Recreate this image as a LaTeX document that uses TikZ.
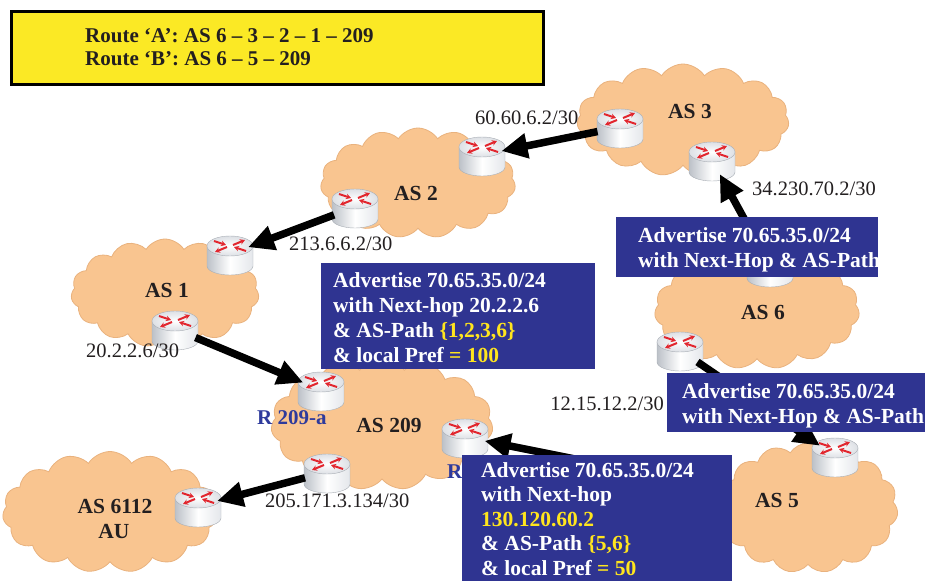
\documentclass[tikz,border=0pt]{standalone}
\usepackage{fontspec}
\setmainfont{Liberation Serif}
\usetikzlibrary{shapes.symbols,shapes.geometric,arrows.meta}

\definecolor{cloudfill}{HTML}{F9C590}
\definecolor{cloudedge}{HTML}{E9B27E}
\definecolor{advblue}{HTML}{2F3491}
\definecolor{hiyellow}{HTML}{FFE51E}
\definecolor{notebg}{HTML}{FBE925}
\definecolor{inkblack}{HTML}{231F20}
\definecolor{rnameblue}{HTML}{2E3A9C}
\definecolor{routerred}{HTML}{E2262E}
\definecolor{rtrdark}{HTML}{BCC1C8}
\definecolor{rtrlight}{HTML}{E4E7EB}
\definecolor{rtrtop}{HTML}{DDE0E5}
\definecolor{rtredge}{HTML}{A9AEB5}

\begin{document}
\begin{tikzpicture}[x=1pt,y=-1pt,
  as/.style={cloud, cloud puffs=15, cloud puff arc=115, fill=cloudfill,
    draw=cloudedge, line width=0.8pt, inner sep=0pt},
  aslabel/.style={font=\fontsize{21.5}{24}\selectfont\bfseries, text=inkblack,
    inner sep=0pt, anchor=base},
  rtr/.style={ellipse, minimum width=46pt, minimum height=36pt, inner sep=0pt},
  ip/.style={font=\fontsize{20.5}{24}\selectfont, text=inkblack, inner sep=0pt,
    anchor=base west},
  rname/.style={font=\fontsize{21}{24}\selectfont\bfseries, text=rnameblue,
    inner sep=0pt, anchor=base west},
  advbox/.style={fill=advblue, draw=none, anchor=north west, inner sep=0pt},
  advtext/.style={font=\fontsize{21.5}{25}\selectfont\bfseries, text=white,
    inner sep=0pt, anchor=north west, align=left},
  bgp/.style={line width=7.5pt, draw=black, shorten >=-3pt,
    -{Triangle[length=26pt,width=24pt]}},
  router/.pic={
    \path[draw=rtredge, line width=0.4pt, left color=rtrdark, right color=rtrlight,
      middle color=white]
      (-23,-8) -- (-23,12) arc[start angle=180, end angle=360, x radius=23pt, y radius=9pt]
      -- (23,-8) -- cycle;
    \path[draw=rtredge, line width=0.4pt, inner color=white, outer color=rtrtop]
      (0,-8) ellipse [x radius=23pt, y radius=10pt];
    \begin{scope}[routerred, line width=2pt, -{Stealth[length=5pt,width=5.5pt]}]
      \draw (-16,-13) -- (-4,-9);
      \draw (16,-3) -- (4,-7);
      \draw (3,-9) -- (15,-14);
      \draw (-3,-7) -- (-15,-2);
    \end{scope}
  }
]
\useasboundingbox (0,0) rectangle (930,581);
\clip (0,0) rectangle (930,581);

% autonomous systems
\node[as, minimum width=212pt, minimum height=112pt] (as3) at (683,120) {};
\node[as, minimum width=195pt, minimum height=110pt] (as2) at (418,183) {};
\node[as, minimum width=188pt, minimum height=108pt] (as1) at (165,293) {};
\node[as, minimum width=222pt, minimum height=132pt] (as209) at (382,424) {};
\node[as, minimum width=215pt, minimum height=121pt] (as6112) at (110,512) {};
\node[as, minimum width=205pt, minimum height=118pt] (as6) at (757,310) {};
\node[as, minimum width=180pt, minimum height=130pt] (as5) at (808,508) {};

% border routers
\node[rtr] (r3a) at (620,127) {};
\node[rtr] (r3b) at (712,160) {};
\node[rtr] (r2a) at (482,155) {};
\node[rtr] (r2b) at (355,207) {};
\node[rtr] (r1a) at (230,254) {};
\node[rtr] (r1b) at (175,329) {};
\node[rtr] (r209a) at (321,390) {};
\node[rtr] (r209b) at (465,437) {};
\node[rtr] (r209c) at (327,472) {};
\node[rtr] (r6112) at (198,506) {};
\node[rtr] (r6a) at (770,266) {};
\node[rtr] (r6b) at (680,350) {};
\node[rtr] (r5) at (835,456) {};
\coordinate (as5w) at (720,488);
\foreach \r in {r3a,r3b,r2a,r2b,r1a,r1b,r209a,r209b,r209c,r6112,r6a,r6b,r5}
  \pic at (\r) {router};

% advertisements between peers
\draw[bgp] (r3a) -- (r2a);
\draw[bgp] (r2b) -- (r1a);
\draw[bgp] (r1b) -- (r209a);
\draw[bgp] (r209c) -- (r6112);
\draw[bgp] (r6a) -- (r3b);
\draw[bgp] (r6b) -- (r5);
\draw[bgp] (as5w) -- (r209b);

% AS names
\node[aslabel] (l3) at (690,118) {AS 3};
\node[aslabel] (l2) at (416,200) {AS 2};
\node[aslabel] (l1) at (167,297) {AS 1};
\node[aslabel] (l209) at (389,432) {AS 209};
\node[aslabel] (l6112) at (115,513) {AS 6112};
\node[aslabel] (lau) at (114,538) {AU};
\node[aslabel] (l6) at (763,319) {AS 6};
\node[aslabel] (l5) at (777,507) {AS 5};

% interface addresses
\node[ip] (ip60) at (475,124) {60.60.6.2/30};
\node[ip] (ip213) at (289,250) {213.6.6.2/30};
\node[ip] (ip20) at (86,357) {20.2.2.6/30};
\node[ip] (ip205) at (265,507) {205.171.3.134/30};
\node[ip] (ip34) at (752,195) {34.230.70.2/30};
\node[ip, anchor=base east] (ip12) at (664,410) {12.15.12.2/30};

% router names
\node[rname] (n209a) at (257,424) {R 209-a};
\node[rname] (n209b) at (447,478) {R};

% route summary
\node[fill=notebg, draw=black, line width=3pt, minimum width=532pt, minimum height=73pt,
  anchor=north west, inner sep=0pt] (routes) at (10,10) {};
\node[font=\fontsize{21}{23.5}\selectfont\bfseries, text=inkblack, inner sep=0pt,
  anchor=north west, align=left] (routest) at ([xshift=75pt,yshift=-16pt]routes.north west)
  {\rule{0pt}{16pt}Route ‘A’: AS 6 – 3 – 2 – 1 – 209\\Route ‘B’: AS 6 – 5 – 209};

% advertisement notes
\node[advbox, minimum width=274pt, minimum height=106pt] (adv1) at (321,263) {};
\node[advtext] (adv1t) at ([xshift=12pt,yshift=-8pt]adv1.north west)
  {\rule{0pt}{16pt}Advertise 70.65.35.0/24\\with Next-hop 20.2.2.6\\
   \& AS-Path {\color{hiyellow}\{1,2,3,6\}}\\\& local Pref {\color{hiyellow}= 100}};

\node[advbox, minimum width=262pt, minimum height=60pt] (adv2) at (616,217) {};
\node[advtext] (adv2t) at ([xshift=22pt,yshift=-9pt]adv2.north west)
  {\rule{0pt}{16pt}Advertise 70.65.35.0/24\\with Next-Hop \& AS-Path};

\node[advbox, minimum width=258pt, minimum height=59pt] (adv3) at (667,373) {};
\node[advtext] (adv3t) at ([xshift=15pt,yshift=-9pt]adv3.north west)
  {\rule{0pt}{16pt}Advertise 70.65.35.0/24\\with Next-Hop \& AS-Path};

\node[advbox, minimum width=270pt, minimum height=130pt] (adv4) at (462,455) {};
\node[advtext, font=\fontsize{21.5}{24.5}\selectfont\bfseries] (adv4t)
  at ([xshift=19pt,yshift=-6pt]adv4.north west)
  {\rule{0pt}{16pt}Advertise 70.65.35.0/24\\with Next-hop\\
   {\color{hiyellow}130.120.60.2}\\\& AS-Path {\color{hiyellow}\{5,6\}}\\
   \& local Pref {\color{hiyellow}= 50}};
\end{tikzpicture}
\end{document}
